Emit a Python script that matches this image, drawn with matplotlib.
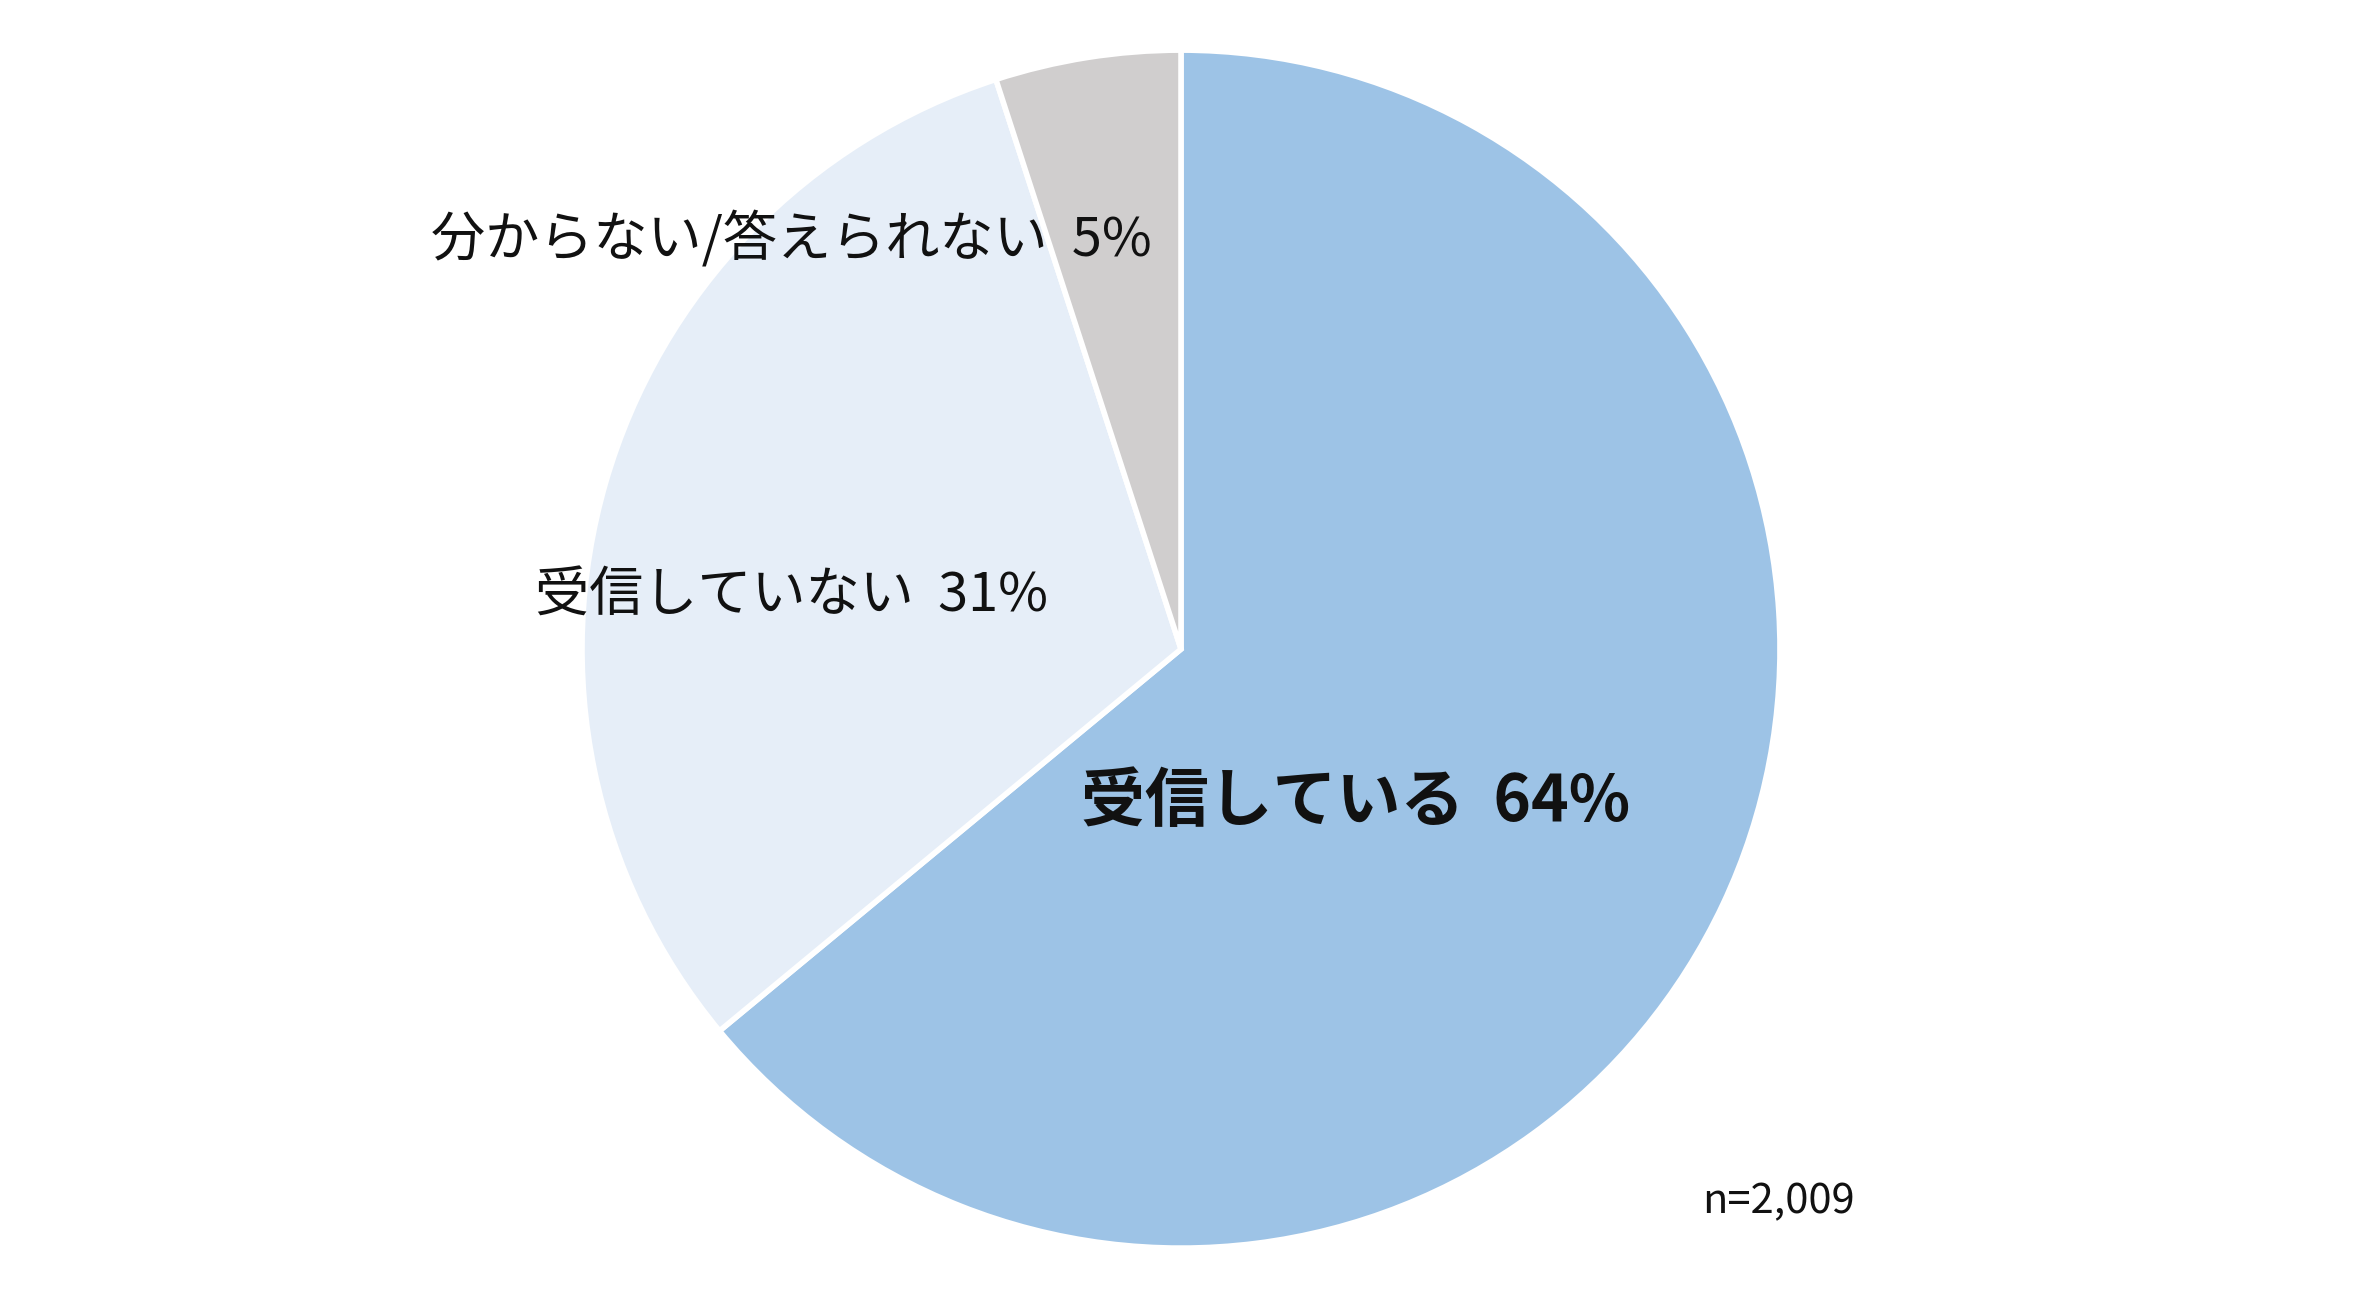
import matplotlib.pyplot as plt

plt.rcParams['font.family'] = ['Noto Sans CJK JP', 'DejaVu Sans']

labels = ["受信している", "受信していない", "分からない/答えられない"]
values = [64, 31, 5]
colors = ["#9DC3E6", "#E6EEF8", "#D0CECE"]
sample_note = "n=2,009"

fig = plt.figure(figsize=(23.62, 12.99), dpi=100)
# pie centre ~ (1181, 649) px, radius ~ 599 px
ax = fig.add_axes([0.2464, 0.0392, 0.5072, 0.9222])

ax.pie(values, colors=colors, startangle=90, counterclock=False,
       wedgeprops=dict(edgecolor="white", linewidth=4))
ax.set_xlim(-1, 1)
ax.set_ylim(-1, 1)
ax.set_aspect("equal")

# label positions in pie data coords
label_pos = [(0.291, -0.255), (-0.650, 0.088), (-0.650, 0.684)]
for i, (lab, val) in enumerate(zip(labels, values)):
    x, y = label_pos[i]
    if i == 0:
        ax.text(x, y, f"{lab}  {val}%", ha="center", va="center",
                fontsize=46, fontweight="bold", color="#111111")
    else:
        ax.text(x, y, f"{lab}  {val}%", ha="center", va="center",
                fontsize=39, color="#111111")

fig.text(0.7206, 0.0747, sample_note, ha="left", va="center",
         fontsize=30, color="#111111")

fig.savefig("out.png", dpi=100)
